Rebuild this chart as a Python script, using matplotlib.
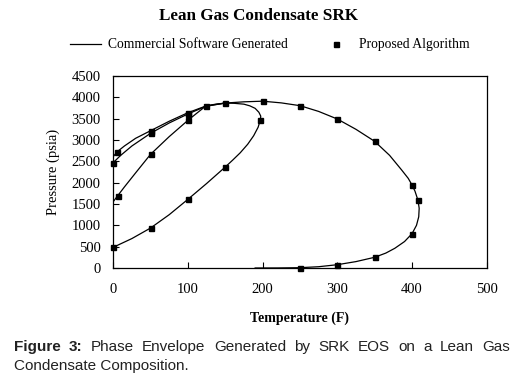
import matplotlib
matplotlib.use('Agg')
import matplotlib.pyplot as plt
from matplotlib.lines import Line2D

plt.rcParams['font.family'] = ['Liberation Serif', 'DejaVu Serif']

# Commercial software curves
env_t = [0, 5, 15, 30, 50, 75, 100, 124, 137, 150, 175, 200, 225, 250, 275, 300, 325, 350,
         370, 386, 395, 400, 404, 408, 409.6, 409, 406, 400, 390, 377, 365, 350, 325, 300,
         275, 250, 220, 190]
env_p = [2610, 2720, 2860, 3040, 3218, 3440, 3640, 3797, 3840, 3866, 3895, 3910, 3870, 3805,
         3670, 3492, 3250, 2969, 2640, 2300, 2100, 1945, 1800, 1587, 1400, 1200, 1000, 804,
         620, 462, 350, 251, 150, 77, 30, 7, 1, 0]

q1_t = [0, 10, 25, 50, 75, 100, 124, 150]
q1_p = [2470, 2640, 2860, 3157, 3400, 3610, 3790, 3866]

q2_t = [0, 6, 15, 30, 50, 75, 100, 112, 124, 150]
q2_p = [1554, 1694, 1900, 2230, 2665, 3080, 3461, 3630, 3797, 3866]

q3_t = [0, 25, 50, 75, 100, 125, 150, 160, 170, 180, 188, 194, 197, 197.5, 195, 190, 183,
        175, 162, 150]
q3_p = [485, 690, 937, 1250, 1610, 1980, 2367, 2530, 2700, 2900, 3100, 3300, 3475, 3560,
        3650, 3742, 3800, 3840, 3860, 3866]

# Proposed algorithm points
alg_t = [5, 50, 100, 124, 150, 200, 250, 300, 350, 400, 408, 400, 350, 300, 250,
         0, 50, 100,
         6, 50, 100,
         0, 50, 100, 150, 197]
alg_p = [2720, 3218, 3640, 3797, 3860, 3906, 3804, 3492, 2969, 1945, 1587, 804, 251, 77, 7,
         2470, 3157, 3610,
         1694, 2665, 3461,
         485, 937, 1610, 2367, 3475]

fig = plt.figure(figsize=(5.17, 3.81), dpi=100)
ax = fig.add_axes([0.219, 0.2966, 0.7224, 0.5039])

for t, p in [(env_t, env_p), (q1_t, q1_p), (q2_t, q2_p), (q3_t, q3_p)]:
    ax.plot(t, p, color='black', lw=0.9)
ax.plot(alg_t, alg_p, 's', color='black', ms=3.6, clip_on=False, zorder=3)

ax.set_xlim(0, 500)
ax.set_ylim(0, 4500)
ax.set_xticks(range(0, 501, 100))
ax.set_yticks(range(0, 4501, 500))
ax.tick_params(direction='in', length=4, width=0.8, labelsize=10.5)
ax.tick_params(axis='x', pad=11)
ax.tick_params(axis='y', pad=9)
for s in ax.spines.values():
    s.set_linewidth(0.9)

ax.set_xlabel('Temperature (F)', fontsize=10, fontweight='bold', labelpad=11)
ax.set_ylabel('Pressure (psia)', fontsize=10.5, labelpad=8)

fig.text(0.5, 0.958, 'Lean Gas Condensate SRK', ha='center', va='center',
         fontsize=12.3, fontweight='bold')

handles = [Line2D([], [], color='black', lw=0.9),
           Line2D([], [], ls='none', marker='s', color='black', ms=3.6)]
ax.legend(handles, ['Commercial Software Generated', 'Proposed Algorithm'],
          loc='center', bbox_to_anchor=(0.522, 0.882), bbox_transform=fig.transFigure,
          ncol=2, frameon=False, fontsize=9.8, handlelength=2.3, handletextpad=0.5,
          columnspacing=2.4)

# Justified caption
cap_font = ['Liberation Sans', 'DejaVu Sans']
words = [('Figure', 'bold'), ('3:', 'bold'), ('Phase', 'normal'), ('Envelope', 'normal'),
         ('Generated', 'normal'), ('by', 'normal'), ('SRK', 'normal'), ('EOS', 'normal'),
         ('on', 'normal'), ('a', 'normal'), ('Lean', 'normal'), ('Gas', 'normal')]
x0, x1 = 14 / 517, 510 / 517
y1 = 1 - 347 / 381
texts = [fig.text(0, y1, w, fontsize=11, fontweight=fw, family=cap_font,
                  color='#222222', va='center', ha='left') for w, fw in words]
r = fig.canvas.get_renderer()
widths = [t.get_window_extent(r).width / fig.bbox.width for t in texts]
gap = (x1 - x0 - sum(widths)) / (len(words) - 1)
x = x0
for t, w in zip(texts, widths):
    t.set_x(x)
    x += w + gap
fig.text(x0, 1 - 366 / 381, 'Condensate Composition.', fontsize=11, family=cap_font,
         color='#222222', va='center', ha='left')

fig.savefig('out.png', dpi=100)
